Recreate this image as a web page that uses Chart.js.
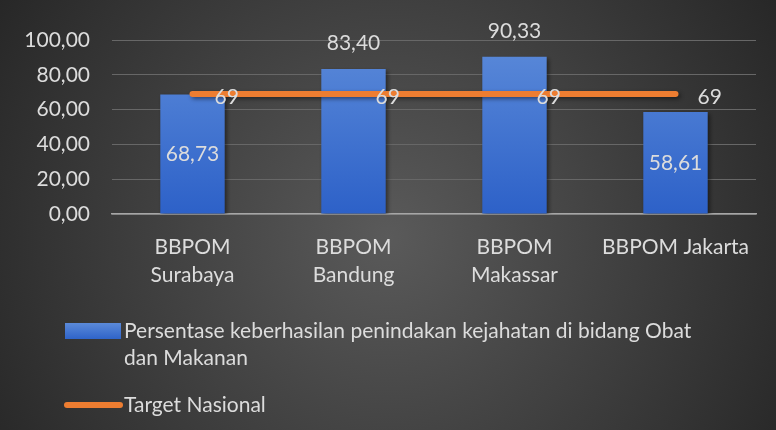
<!DOCTYPE html>
<html>
<head>
<meta charset="utf-8">
<script src="https://cdn.jsdelivr.net/npm/chart.js@4.4.1/dist/chart.umd.min.js"></script>
<style>
  html, body { margin: 0; padding: 0; background: #333; }
  #wrap { width: 776px; height: 430px; }
</style>
</head>
<body>
<div id="wrap"><canvas id="myChart" width="776" height="430"></canvas></div>
<script>
const categories = [['BBPOM', 'Surabaya'], ['BBPOM', 'Bandung'], ['BBPOM', 'Makassar'], 'BBPOM Jakarta'];
const persentase = [68.73, 83.40, 90.33, 58.61];
const targetNasional = [69, 69, 69, 69];
const seriesNames = ['Persentase keberhasilan penindakan kejahatan di bidang Obat dan Makanan', 'Target Nasional'];

const FONT = 'Lato, "Liberation Sans", sans-serif';
const TXT = '#dcdcdc';
const fmt = v => v.toFixed(2).replace('.', ',');

// dark radial background like the office chart style
const bgPlugin = {
  id: 'bg',
  beforeDraw(chart) {
    const c = chart.ctx, w = chart.width, h = chart.height;
    const g = c.createRadialGradient(w / 2, h * 0.55, 0, w / 2, h * 0.55, w * 0.6);
    g.addColorStop(0, '#5a5a5a');
    g.addColorStop(1, '#262626');
    c.save();
    c.fillStyle = g;
    c.fillRect(0, 0, w, h);
    c.restore();
  }
};

// soft drop shadow under bars and line
const shadowPlugin = {
  id: 'shadow',
  beforeDatasetDraw(chart) {
    const c = chart.ctx;
    c.save();
    c.shadowColor = 'rgba(0,0,0,0.45)';
    c.shadowBlur = 4;
    c.shadowOffsetX = 2;
    c.shadowOffsetY = 2;
  },
  afterDatasetDraw(chart) {
    chart.ctx.restore();
  }
};

const labelPlugin = {
  id: 'valLabels',
  afterDatasetsDraw(chart) {
    const c = chart.ctx;
    c.save();
    c.font = '21px ' + FONT;
    c.fillStyle = TXT;
    const bars = chart.getDatasetMeta(0).data;
    bars.forEach((b, i) => {
      c.textAlign = 'center';
      c.textBaseline = 'middle';
      if (persentase[i] > targetNasional[i]) {
        c.fillText(fmt(persentase[i]), b.x, b.y - 26);
      } else {
        c.fillText(fmt(persentase[i]), b.x, (b.y + b.base) / 2);
      }
    });
    const pts = chart.getDatasetMeta(1).data;
    pts.forEach((p, i) => {
      c.textAlign = 'left';
      c.textBaseline = 'middle';
      c.fillText(String(targetNasional[i]), p.x + 22, p.y + 3);
    });
    c.restore();
  }
};

const legendPlugin = {
  id: 'customLegend',
  afterDraw(chart) {
    const c = chart.ctx;
    c.save();
    c.font = '21px ' + FONT;
    c.textAlign = 'left';
    c.textBaseline = 'middle';
    // blue swatch + wrapped text
    const g = c.createLinearGradient(0, 323, 0, 339);
    g.addColorStop(0, '#5b8ad9');
    g.addColorStop(1, '#2f64c9');
    c.fillStyle = g;
    c.fillRect(65, 323, 56, 16);
    c.fillStyle = TXT;
    const words = seriesNames[0].split(' ');
    let line = '', y = 331;
    const lines = [];
    words.forEach(wd => {
      const t = line ? line + ' ' + wd : wd;
      if (c.measureText(t).width > 600 && line) { lines.push(line); line = wd; } else line = t;
    });
    lines.push(line);
    lines.forEach(l => { c.fillText(l, 124, y); y += 27; });
    // orange line swatch
    c.strokeStyle = '#ed7d31';
    c.lineWidth = 6;
    c.lineCap = 'round';
    c.beginPath();
    c.moveTo(67, 405);
    c.lineTo(120, 405);
    c.stroke();
    c.fillText(seriesNames[1], 124, 405);
    c.restore();
  }
};

const ctx = document.getElementById('myChart');

const data = {
  labels: categories,
  datasets: [{
    type: 'bar',
    label: seriesNames[0],
    data: persentase,
    order: 2,
    backgroundColor: (context) => {
      const ca = context.chart.chartArea;
      if (!ca) return '#4472c4';
      const g = context.chart.ctx.createLinearGradient(0, ca.top, 0, ca.bottom);
      g.addColorStop(0, '#5b8ad9');
      g.addColorStop(1, '#2d61c8');
      return g;
    },
    categoryPercentage: 0.8,
    barPercentage: 0.5
  }, {
    type: 'line',
    label: seriesNames[1],
    data: targetNasional,
    order: 1,
    borderColor: '#ed7d31',
    borderWidth: 6,
    borderCapStyle: 'round',
    pointRadius: 0,
    fill: false,
    tension: 0
  }]
};

const config = {
  type: 'bar',
  data: data,
  options: {
    responsive: false,
    animation: false,
    layout: { padding: { top: 40, right: 20, left: 0, bottom: 0 } },
    plugins: {
      legend: { display: false },
      tooltip: { enabled: false }
    },
    scales: {
      x: {
        grid: { display: false, drawTicks: false },
        border: { display: true, color: '#a6a6a6', width: 1.5 },
        ticks: { color: TXT, font: { family: FONT, size: 21, lineHeight: 1.3 }, padding: 20, maxRotation: 0 },
        afterFit: s => { s.height = 216; }
      },
      y: {
        min: 0,
        max: 100,
        ticks: { stepSize: 20, color: TXT, font: { family: FONT, size: 21 }, padding: 22, callback: v => fmt(v) },
        grid: { color: '#676767', lineWidth: 1, drawTicks: false },
        border: { display: false },
        afterFit: s => { s.width = 112; }
      }
    }
  },
  plugins: [bgPlugin, shadowPlugin, labelPlugin, legendPlugin]
};

const comboChart = new Chart(ctx, config);
</script>
</body>
</html>
